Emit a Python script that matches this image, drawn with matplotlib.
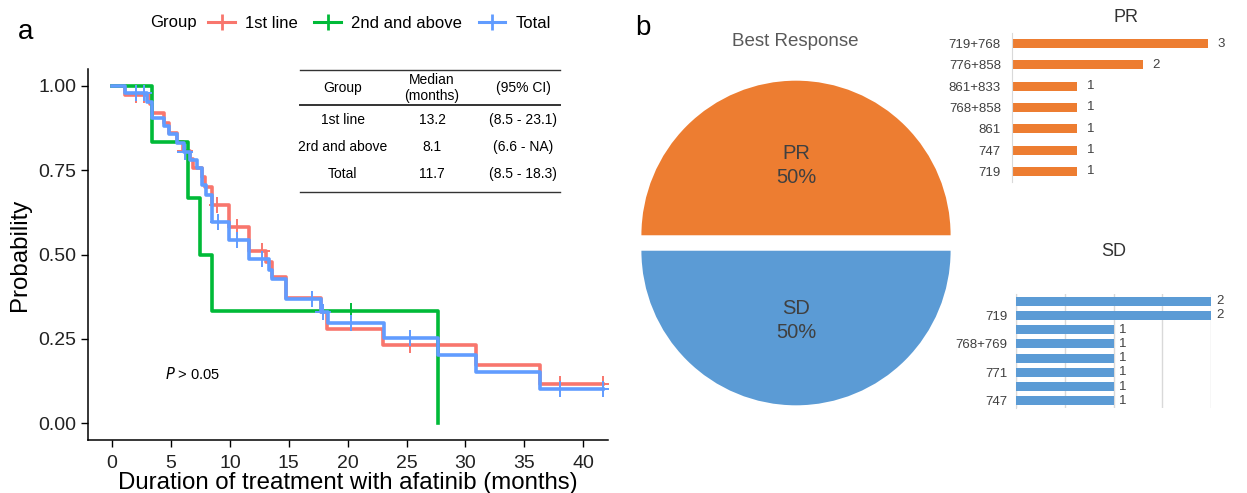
import numpy as np
import matplotlib
matplotlib.use('Agg')
import matplotlib.pyplot as plt
from matplotlib.lines import Line2D

plt.rcParams['font.family'] = ['Liberation Sans', 'DejaVu Sans']

W, H = 1247, 493

# ---- panel a: Kaplan-Meier steps (months, survival)
first_t = [0, 1.1, 3.2, 3.35, 4.4, 4.8, 5.5, 6.0, 6.6, 6.9, 7.6, 7.9, 8.45,
           9.9, 11.6, 13.1, 13.6, 14.8, 17.7, 18.2, 23.0, 30.9, 36.3]
first_s = [1.0, 0.973, 0.946, 0.919, 0.889, 0.860, 0.835, 0.807, 0.782, 0.757,
           0.729, 0.701, 0.647, 0.583, 0.511, 0.479, 0.434, 0.370, 0.330,
           0.279, 0.233, 0.172, 0.116]
first_cens = [2.0, 2.7, 6.2, 8.9, 10.6, 12.7, 17.9, 25.3, 38.0, 41.7]

second_t = [0, 3.4, 6.45, 7.5, 8.45, 27.7]
second_s = [1.0, 0.833, 0.667, 0.5, 0.333, 0.0]
second_cens = [20.3]

total_t = [0, 1.1, 3.0, 3.4, 4.4, 4.8, 5.5, 6.1, 6.6, 7.2, 7.6, 8.0, 8.45,
           9.9, 11.6, 13.3, 13.6, 14.8, 17.7, 18.3, 23.1, 27.7, 30.9, 36.3]
total_s = [1.0, 0.978, 0.952, 0.905, 0.880, 0.856, 0.830, 0.805, 0.780, 0.756,
           0.706, 0.677, 0.597, 0.543, 0.486, 0.455, 0.426, 0.367, 0.330,
           0.296, 0.253, 0.202, 0.152, 0.100]
total_cens = [2.0, 2.7, 6.2, 9.0, 10.6, 12.7, 17.0, 17.9, 20.3, 25.3, 38.0, 41.7]

groups = ['1st line', '2nd and above', 'Total']
group_colors = ['#F8766D', '#00BA38', '#619CFF']

table_header = ['Group', 'Median\n(months)', '(95% CI)']
table_rows = [['1st line', '13.2', '(8.5 - 23.1)'],
              ['2rd and above', '8.1', '(6.6 - NA)'],
              ['Total', '11.7', '(8.5 - 18.3)']]

# ---- panel b
resp_labels = ['PR', 'SD']
resp_pct = [50, 50]
resp_colors = ['#ED7D31', '#5B9BD5']

pr_labels = ['719+768', '776+858', '861+833', '768+858', '861', '747', '719']
pr_counts = [3, 2, 1, 1, 1, 1, 1]

sd_labels = ['', '719', '', '768+769', '', '771', '', '747']
sd_counts = [2, 2, 1, 1, 1, 1, 1, 1]


def box(l, t, r, b):
    return [l / W, 1 - b / H, (r - l) / W, (b - t) / H]


def px(x, y):
    return x / W, 1 - y / H


fig = plt.figure(figsize=(W / 100, H / 100), dpi=100)

# ================= panel a
ax = fig.add_axes(box(88, 69, 608, 440))
curves = [(first_t, first_s, first_cens), (second_t, second_s, second_cens),
          (total_t, total_s, total_cens)]
for (t, s, c), col in zip(curves, group_colors):
    end = max(c + [t[-1]])
    ax.step(t + [end], s + [s[-1]], where='post', color=col, lw=2.6)
    idx = np.searchsorted(t, c, side='right') - 1
    ax.plot(c, np.array(s)[idx], '+', color=col, ms=11, mew=1.4)

ax.set_xlim(-2.05, 42.1)
ax.set_ylim(-0.05, 1.05)
ax.set_xticks(range(0, 41, 5))
ax.set_yticks([0, 0.25, 0.5, 0.75, 1.0], ['0.00', '0.25', '0.50', '0.75', '1.00'])
for sp in ['top', 'right']:
    ax.spines[sp].set_visible(False)
for sp in ['left', 'bottom']:
    ax.spines[sp].set_linewidth(1.1)
ax.tick_params(labelsize=14, length=5, width=1, colors='black', labelcolor='#222222')
ax.tick_params(axis='x', pad=6)
ax.set_xlabel('Duration of treatment with afatinib (months)', fontsize=17.3, labelpad=0)
ax.set_ylabel('Probability', fontsize=17.3, labelpad=5)
ax.text(4.5, 0.13, r'$P$ > 0.05', fontsize=10.5)

# legend
fig.text(*px(150, 23), 'Group', fontsize=12, va='center')
handles = [Line2D([], [], color=c, lw=2.2, marker='+', ms=12, mew=2) for c in group_colors]
fig.legend(handles, groups, loc='center left', bbox_to_anchor=px(200, 23), ncol=3,
           frameon=False, fontsize=12, handlelength=1.6, handletextpad=0.6,
           columnspacing=1.0, borderpad=0)

# median table
col_x = [343, 432, 523]
for x, h in zip(col_x, table_header):
    fig.text(*px(x, 88), h, ha='center', va='center', fontsize=10, linespacing=1.15)
for j, row in enumerate(table_rows):
    for x, v in zip(col_x, row):
        fig.text(*px(x, 120 + 27 * j), v, ha='center', va='center', fontsize=10)
for yl, lw in [(70, 1.0), (105, 1.4), (192, 1.0)]:
    fig.add_artist(Line2D([300 / W, 560 / W], [1 - yl / H] * 2, color='#333333', lw=lw,
                          transform=fig.transFigure))

fig.text(*px(18, 32), 'a', fontsize=20, va='center')
fig.text(*px(635, 28), 'b', fontsize=20, va='center')

# ================= panel b: pie
axp = fig.add_axes(box(636, 83, 956, 403))
lab = iter(resp_labels)
wedges, texts, autotexts = axp.pie(
    resp_pct, explode=[0.05, 0.05], colors=resp_colors, startangle=0,
    autopct=lambda p: f'{next(lab)}\n{p:.0f}%', pctdistance=0.45,
    wedgeprops=dict(linewidth=0), textprops=dict(linespacing=1.3))
for at in autotexts:
    at.set_fontsize(14.5)
    at.set_color('#404040')
axp.set_xlim(-1.035, 1.035)
axp.set_ylim(-1.035, 1.035)
fig.text(*px(795, 42), 'Best Response', ha='center', va='center', fontsize=13.5,
         color='#595959')

# PR bars
axr = fig.add_axes(box(1012, 33, 1208, 182))
yr = np.arange(len(pr_labels))
bars = axr.barh(yr, pr_counts, height=0.42, color=resp_colors[0])
axr.bar_label(bars, padding=7, fontsize=9.5, color='#404040')
axr.set_xlim(0, 3)
axr.set_ylim(len(pr_labels) - 0.5, -0.5)
axr.set_yticks(yr, pr_labels)
axr.set_xticks([])
axr.tick_params(axis='y', length=0, labelsize=9.5, labelcolor='#404040', pad=8)
for sp in ['top', 'right', 'bottom']:
    axr.spines[sp].set_visible(False)
axr.spines['left'].set_color('#d9d9d9')
fig.text(*px(1126, 18), 'PR', ha='center', va='center', fontsize=13, color='#333333')

# SD bars
axs = fig.add_axes(box(1016, 294, 1211, 408))
ys = np.arange(len(sd_labels))
bars = axs.barh(ys, sd_counts, height=0.62, color=resp_colors[1], zorder=3)
axs.bar_label(bars, padding=4, fontsize=9.5, color='#404040')
axs.set_xlim(0, 2)
axs.set_ylim(len(sd_labels) - 0.5, -0.5)
axs.set_yticks(ys, sd_labels)
axs.set_xticks(np.arange(0, 2.01, 0.5))
axs.set_xticklabels([])
axs.grid(axis='x', color='#d9d9d9', lw=1)
axs.tick_params(axis='both', length=0, labelsize=9.5, labelcolor='#404040', pad=6)
for sp in ['top', 'right', 'bottom']:
    axs.spines[sp].set_visible(False)
axs.spines['left'].set_color('#d9d9d9')
fig.text(*px(1114, 252), 'SD', ha='center', va='center', fontsize=13, color='#333333')

fig.savefig('out.png', dpi=100)
